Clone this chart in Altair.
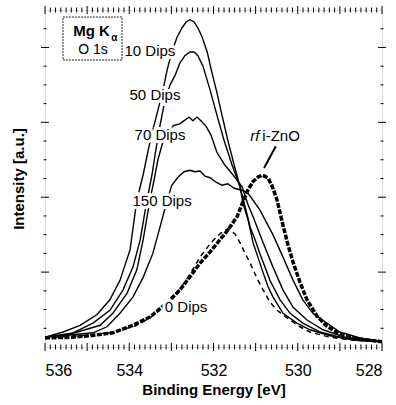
import altair as alt
import numpy as np
import pandas as pd

# Plot area size in pixels
W, H = 337, 337
FONT = "Liberation Sans"

# O 1s spectra: binding energy (eV) and intensity (a.u.)
e_10 = [536.00, 535.57, 535.17, 534.77, 534.46, 534.22, 533.98, 533.82, 533.67, 533.55,
        533.44, 533.32, 533.20, 533.10, 532.99, 532.87, 532.75, 532.65, 532.56, 532.46,
        532.37, 532.27, 532.15, 532.04, 531.92, 531.80, 531.66, 531.51, 531.37, 531.30,
        531.18, 531.06, 530.94, 530.82, 530.71, 530.59, 530.35, 530.02, 529.71, 529.23,
        528.64, 528.00]
i_10 = [0.13, 0.20, 0.29, 0.43, 0.63, 0.89, 1.30, 1.96, 2.30, 2.63,
        2.90, 3.16, 3.43, 3.70, 3.94, 4.13, 4.26, 4.34, 4.37, 4.34,
        4.26, 4.14, 3.94, 3.67, 3.40, 3.10, 2.76, 2.43, 2.14, 1.92,
        1.70, 1.39, 1.19, 0.99, 0.81, 0.67, 0.45, 0.32, 0.23, 0.15,
        0.09, 0.07]

e_50 = [536.00, 535.41, 534.86, 534.46, 534.15, 533.91, 533.74, 533.58, 533.46, 533.37,
        533.27, 533.15, 533.03, 532.91, 532.80, 532.68, 532.56, 532.46, 532.37, 532.25,
        532.08, 531.92, 531.75, 531.56, 531.37, 531.23, 531.13, 531.01, 530.90, 530.78,
        530.66, 530.42, 530.18, 529.88, 529.47, 529.00, 528.00]
i_50 = [0.13, 0.17, 0.32, 0.49, 0.76, 1.07, 1.43, 1.96, 2.30, 2.63,
        2.96, 3.30, 3.50, 3.63, 3.79, 3.89, 3.94, 3.94, 3.89, 3.75,
        3.43, 3.10, 2.76, 2.43, 2.14, 1.83, 1.60, 1.43, 1.25, 1.07,
        0.89, 0.63, 0.45, 0.32, 0.20, 0.13, 0.07]

e_70 = [536.00, 535.29, 534.69, 534.39, 534.05, 533.82, 533.67, 533.51, 533.41, 533.32,
        533.20, 533.08, 532.94, 532.80, 532.68, 532.58, 532.49, 532.39, 532.30, 532.18,
        532.06, 531.92, 531.73, 531.54, 531.32, 531.18, 531.06, 530.82, 530.59, 530.35,
        530.11, 529.78, 529.40, 528.88, 528.00]
i_70 = [0.13, 0.19, 0.29, 0.45, 0.72, 1.03, 1.43, 1.96, 2.23, 2.50,
        2.74, 2.90, 2.96, 2.98, 3.03, 3.07, 3.02, 3.07, 3.02, 2.95,
        2.83, 2.60, 2.43, 2.30, 2.14, 1.90, 1.74, 1.39, 1.07, 0.76,
        0.53, 0.36, 0.23, 0.13, 0.07]

e_150 = [536.00, 535.41, 534.86, 534.53, 534.22, 533.91, 533.67, 533.44, 533.27, 533.10,
         532.99, 532.84, 532.70, 532.56, 532.44, 532.32, 532.20, 532.08, 531.94, 531.80,
         531.66, 531.51, 531.37, 531.20, 531.06, 530.90, 530.75, 530.59, 530.35, 530.11,
         529.88, 529.64, 529.31, 529.00, 528.52, 528.00]
i_150 = [0.13, 0.16, 0.19, 0.27, 0.45, 0.67, 0.93, 1.25, 1.60, 1.96,
         2.16, 2.27, 2.34, 2.36, 2.34, 2.35, 2.28, 2.26, 2.20, 2.16,
         2.18, 2.12, 2.10, 2.07, 1.96, 1.83, 1.67, 1.50, 1.20, 0.89,
         0.63, 0.45, 0.32, 0.20, 0.12, 0.07]

e_0 = [536.00, 535.17, 534.46, 533.86, 533.51, 533.15, 532.80, 532.56, 532.32, 532.08,
       531.85, 531.66, 531.49, 531.37, 531.25, 531.13, 530.97, 530.82, 530.66, 530.49,
       530.18, 529.95, 529.71, 529.23, 528.64, 528.00]
i_0 = [0.12, 0.15, 0.19, 0.28, 0.39, 0.55, 0.77, 0.97, 1.20, 1.38,
       1.51, 1.58, 1.51, 1.39, 1.25, 1.12, 0.92, 0.76, 0.60, 0.49,
       0.36, 0.27, 0.20, 0.13, 0.09, 0.07]

e_rf = [536.00, 535.41, 534.93, 534.39, 533.91, 533.51, 533.10, 532.80, 532.49, 532.32,
        532.08, 531.85, 531.66, 531.44, 531.30, 531.18, 531.06, 530.94, 530.86, 530.78,
        530.70, 530.61, 530.49, 530.37, 530.23, 530.11, 529.95, 529.78, 529.54, 529.31,
        529.00, 528.59, 528.00]
i_rf = [0.12, 0.13, 0.15, 0.19, 0.29, 0.40, 0.59, 0.76, 0.99, 1.12,
        1.27, 1.43, 1.56, 1.74, 1.94, 2.10, 2.21, 2.27, 2.29, 2.28,
        2.25, 2.15, 1.96, 1.67, 1.36, 1.13, 0.87, 0.63, 0.41, 0.28,
        0.17, 0.11, 0.07]

# Curve labels placed next to the spectra (energy, intensity)
label_text = ["10 Dips", "50 Dips", "70 Dips", "150 Dips", "0 Dips"]
label_e = [533.51, 533.39, 533.27, 533.22, 532.65]
label_i = [3.95, 3.36, 2.83, 1.95, 0.53]

# Axis ticks
x_label_values = [536, 534, 532, 530, 528]
x_major = list(range(528, 537))
x_minor = [v for v in np.arange(528, 536.001, 0.125) if abs(v - round(v)) > 1e-6]
y_major = [1, 2, 3, 4]
y_minor = [v for v in np.arange(0.25, 4.5, 0.25) if abs(v - round(v)) > 1e-6]


def frame(e, i, name):
    return pd.DataFrame({"E": e, "I": i, "series": name, "k": range(len(e))})


solid = pd.concat([frame(e_10, i_10, "10"), frame(e_50, i_50, "50"),
                   frame(e_70, i_70, "70"), frame(e_150, i_150, "150")])
dashed = frame(e_0, i_0, "0")
rf = frame(e_rf, i_rf, "rf")

x_scale = alt.Scale(domain=[528, 536], reverse=True, nice=False, zero=False)
y_scale = alt.Scale(domain=[0, 4.5], nice=False, zero=False)

x_axis = alt.Axis(values=x_label_values, format="d", ticks=False, tickSize=0,
                  domain=False, grid=False, labelFont=FONT, labelFontSize=16,
                  labelColor="black", labelPadding=15, title="Binding Energy [eV]",
                  titleFont=FONT, titleFontSize=15, titleFontWeight="bold",
                  titleColor="black", titlePadding=4)
y_axis = alt.Axis(labels=False, ticks=False, tickSize=0, domain=False, grid=False,
                  title="Intensity [a.u.]", titleFont=FONT, titleFontSize=15,
                  titleFontWeight="bold", titleColor="black", titlePadding=19)

solid_lines = alt.Chart(solid).mark_line(color="black", strokeWidth=1.4).encode(
    x=alt.X("E:Q", scale=x_scale, axis=x_axis),
    y=alt.Y("I:Q", scale=y_scale, axis=y_axis),
    detail="series:N",
    order="k:Q",
)

dashed_line = alt.Chart(dashed).mark_line(
    color="black", strokeWidth=1.5, strokeDash=[5, 4]
).encode(x="E:Q", y="I:Q", order="k:Q")

rf_line = alt.Chart(rf).mark_line(
    color="black", strokeWidth=3.5, strokeDash=[5, 1.5]
).encode(x="E:Q", y="I:Q", order="k:Q")

labels = pd.DataFrame({"E": label_e, "I": label_i, "t": label_text})
halo = alt.Chart(labels).mark_text(
    font=FONT, fontSize=15, color="white", stroke="white", strokeWidth=6,
    baseline="middle", align="center"
).encode(x="E:Q", y="I:Q", text="t:N")
label_marks = alt.Chart(labels).mark_text(
    font=FONT, fontSize=15, color="black", baseline="middle", align="center"
).encode(x="E:Q", y="I:Q", text="t:N")

# rf i-ZnO label with its pointer to the peak
rf_lab = pd.DataFrame({"E": [530.91], "I": [2.82]})
rf_lab2 = pd.DataFrame({"E": [530.84], "I": [2.82]})
rf_italic = alt.Chart(rf_lab).mark_text(
    font=FONT, fontSize=15, fontStyle="italic", align="right", baseline="middle",
    color="black", text="rf"
).encode(x="E:Q", y="I:Q")
rf_plain = alt.Chart(rf_lab2).mark_text(
    font=FONT, fontSize=15, align="left", baseline="middle", color="black", text="i-ZnO"
).encode(x="E:Q", y="I:Q")
pointer = alt.Chart(pd.DataFrame({"E": [530.52], "I": [2.68], "E2": [530.80], "I2": [2.39]})
                    ).mark_rule(color="black", strokeWidth=2).encode(
    x="E:Q", y="I:Q", x2="E2:Q", y2="I2:Q")

# Excitation / core-level box
box = alt.Chart(pd.DataFrame({"E": [535.573], "E2": [534.172], "I": [4.406], "I2": [3.832]})
                ).mark_rect(fill="white", stroke="#222", strokeWidth=1, strokeDash=[2, 1]
                            ).encode(x="E:Q", x2="E2:Q", y="I:Q", y2="I2:Q")
mg = alt.Chart(pd.DataFrame({"E": [534.46], "I": [4.22]})).mark_text(
    font=FONT, fontSize=15, fontWeight="bold", align="right", baseline="middle",
    color="black", text="Mg K").encode(x="E:Q", y="I:Q")
alpha = alt.Chart(pd.DataFrame({"E": [534.43], "I": [4.13]})).mark_text(
    font=FONT, fontSize=10, fontWeight="bold", align="left", baseline="middle",
    color="black", text="α").encode(x="E:Q", y="I:Q")
o1s = alt.Chart(pd.DataFrame({"E": [534.86], "I": [3.97]})).mark_text(
    font=FONT, fontSize=14, align="center", baseline="middle", color="black",
    text="O 1s").encode(x="E:Q", y="I:Q")

# Tick marks crossing all four frame edges
def xticks(values, half):
    d = pd.DataFrame({"E": values})
    bottom = alt.Chart(d).mark_rule(color="black", strokeWidth=1).encode(
        x="E:Q", y=alt.value(H - half), y2=alt.value(H + half))
    top = alt.Chart(d).mark_rule(color="black", strokeWidth=1).encode(
        x="E:Q", y=alt.value(-half), y2=alt.value(half))
    return [bottom, top]


def yticks(values, half):
    d = pd.DataFrame({"I": values})
    left = alt.Chart(d).mark_rule(color="black", strokeWidth=1).encode(
        y="I:Q", x=alt.value(-half), x2=alt.value(half))
    right = alt.Chart(d).mark_rule(color="black", strokeWidth=1).encode(
        y="I:Q", x=alt.value(W - half), x2=alt.value(W + half))
    return [left, right]


tick_layers = xticks(x_major, 4) + xticks(x_minor, 2.5) + yticks(y_major, 4) + yticks(y_minor, 1.5)

chart = alt.layer(
    solid_lines, dashed_line, rf_line, halo, label_marks, rf_italic, rf_plain, pointer,
    box, mg, alpha, o1s, *tick_layers
).properties(
    width=W, height=H,
    autosize=alt.AutoSizeParams(type="none"),
    padding={"left": 45, "top": 10, "right": 14, "bottom": 58},
).configure_view(stroke="black", strokeWidth=1.5).configure(background="white")

chart.save("out.html", embed_options={"renderer": "svg", "actions": False})
